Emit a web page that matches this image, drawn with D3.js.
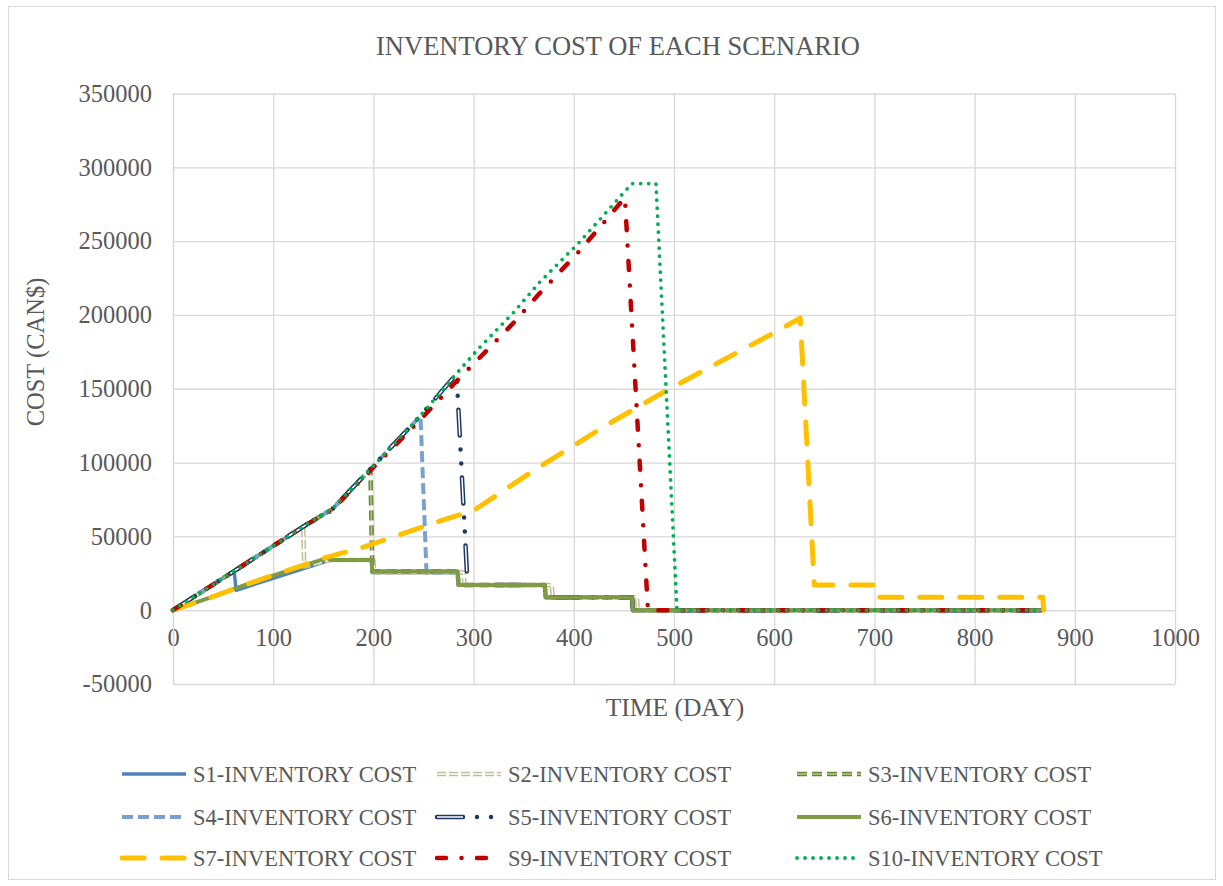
<!DOCTYPE html>
<html>
<head>
<meta charset="utf-8">
<script src="https://cdn.jsdelivr.net/npm/d3@7"></script>
<style>
  body { margin: 0; background: #fff; }
  text { font-family: "Liberation Serif", "Times New Roman", serif; fill: #595959; }
</style>
</head>
<body>
<svg id="chart"></svg>
<script>
// ---- data (day, cost in CAN$) ----
var s1Days = [0, 61, 63, 157, 198, 199, 284, 285, 371, 372, 458, 459, 866];
var s1Cost = [0, 26500, 13500, 34000, 34000, 25500, 25500, 17000, 17000, 8800, 8800, 0, 0];

var s2Days = [0, 61, 130, 131, 157, 200, 201, 290, 291, 378, 379, 463, 464, 866];
var s2Cost = [0, 26500, 56600, 29500, 34000, 34000, 25500, 25500, 17000, 17000, 8800, 8800, 0, 0];

var s3Days = [0, 61, 132, 159, 197, 199, 284, 285, 371, 372, 458, 459, 866];
var s3Cost = [0, 26500, 57500, 68500, 95500, 26300, 26300, 17000, 17000, 8800, 8800, 0, 0];

var s4Days = [0, 61, 132, 159, 199, 247, 253, 284, 285, 371, 372, 458, 459, 866];
var s4Cost = [0, 26500, 57500, 68500, 97000, 131500, 25500, 25500, 17000, 17000, 8800, 8800, 0, 0];

var s5Days = [0, 61, 132, 159, 199, 246, 283, 294, 371, 372, 458, 459, 866];
var s5Cost = [0, 26500, 57500, 68500, 97000, 131000, 160000, 17000, 17000, 8800, 8800, 0, 0];

var s6Days = [0, 37, 77, 154, 157, 198, 199, 284, 285, 371, 372, 458, 459, 866];
var s6Cost = [0, 8500, 18300, 35500, 34000, 34000, 26300, 26300, 17000, 17000, 8800, 8800, 0, 0];

var s7Days = [0, 37, 77, 154, 187, 269, 300, 363, 436, 493, 599, 626, 640, 704, 705, 868, 869];
var s7Cost = [0, 8500, 18300, 36000, 42000, 61000, 67500, 96000, 126700, 149000, 187600, 197800, 17000, 17000, 8800, 8800, 0];

var s9Days = [0, 61, 132, 159, 199, 246, 280, 306, 339, 365, 406, 451, 474, 866];
var s9Cost = [0, 26500, 57500, 68000, 96000, 128500, 153000, 171000, 194000, 214000, 243500, 279500, 0, 0];

var s10Days = [0, 61, 132, 159, 199, 246, 280, 306, 339, 365, 406, 458, 482, 503, 866];
var s10Cost = [0, 26500, 57500, 68500, 97000, 131000, 158000, 178000, 201000, 221500, 249500, 289000, 289000, 0, 0];

var seriesNames = ["S1-INVENTORY COST", "S2-INVENTORY COST", "S3-INVENTORY COST",
                   "S4-INVENTORY COST", "S5-INVENTORY COST", "S6-INVENTORY COST",
                   "S7-INVENTORY COST", "S9-INVENTORY COST", "S10-INVENTORY COST"];
var xTicks = [0, 100, 200, 300, 400, 500, 600, 700, 800, 900, 1000];
var yTicks = [-50000, 0, 50000, 100000, 150000, 200000, 250000, 300000, 350000];

// ---- layout ----
var W = 1223, H = 886;
var plot = {left: 173, right: 1175, top: 93.5, bottom: 684};

var svg = d3.select("#chart").attr("width", W).attr("height", H);

// chart border
svg.append("rect")
  .attr("x", 8.5).attr("y", 6.5)
  .attr("width", 1207).attr("height", 873)
  .attr("fill", "#fff")
  .attr("stroke", "#d9d9d9");

var x = d3.scaleLinear().domain([0, 1000]).range([plot.left, plot.right]);
var y = d3.scaleLinear().domain([-50000, 350000]).range([plot.bottom, plot.top]);

// horizontal grid
svg.append("g")
  .attr("transform", "translate(" + plot.left + ",0)")
  .call(d3.axisLeft(y).tickValues(yTicks).tickSize(-(plot.right - plot.left)).tickFormat(""))
  .call(function(g) { g.select(".domain").remove(); })
  .selectAll("line").attr("stroke", "#d9d9d9").attr("stroke-width", 1.3);

// vertical grid
svg.append("g")
  .attr("transform", "translate(0," + plot.bottom + ")")
  .call(d3.axisBottom(x).tickValues(xTicks).tickSize(-(plot.bottom - plot.top)).tickFormat(""))
  .call(function(g) { g.select(".domain").remove(); })
  .selectAll("line").attr("stroke", "#d9d9d9").attr("stroke-width", 1.3);

// plain hyphen for negatives, like the original
var fmt = function(d) { return String(d); };

// x axis labels sit under the zero line
var xAxis = svg.append("g")
  .attr("transform", "translate(0," + y(0) + ")")
  .call(d3.axisBottom(x).tickValues(xTicks).tickSize(0).tickPadding(18).tickFormat(fmt));
xAxis.select(".domain").attr("stroke", "#d9d9d9").attr("stroke-width", 1.3);
xAxis.selectAll("text").attr("font-size", 24.5).attr("font-family", "Liberation Serif").attr("fill", "#595959");

// y axis labels
var yAxis = svg.append("g")
  .attr("transform", "translate(" + plot.left + ",0)")
  .call(d3.axisLeft(y).tickValues(yTicks).tickSize(0).tickPadding(21).tickFormat(fmt));
yAxis.select(".domain").attr("stroke", "#d9d9d9").attr("stroke-width", 1.3);
yAxis.selectAll("text").attr("font-size", 24.5).attr("font-family", "Liberation Serif").attr("fill", "#595959");

// titles
svg.append("text")
  .attr("x", 618).attr("y", 46)
  .attr("text-anchor", "middle").attr("dy", "0.35em")
  .attr("font-size", 26.5)
  .text("INVENTORY COST OF EACH SCENARIO");

svg.append("text")
  .attr("x", 675).attr("y", 707)
  .attr("text-anchor", "middle").attr("dy", "0.35em")
  .attr("font-size", 25.5)
  .text("TIME (DAY)");

svg.append("text")
  .attr("transform", "translate(35,352) rotate(-90)")
  .attr("text-anchor", "middle").attr("dy", "0.35em")
  .attr("font-size", 24.5)
  .text("COST (CAN$)");

// ---- line styles: each entry is one or more stroke layers ----
var styles = [
  [{stroke: "#4f81bd", width: 3.5}],
  [{stroke: "#c4bd97", width: 4.5, dash: "9,3"}, {stroke: "#fff", width: 1.5, dash: "9,3"}],
  [{stroke: "#6a8435", width: 4.5, dash: "10,5"}, {stroke: "#b5cc8e", width: 1.5, dash: "10,5"}],
  [{stroke: "#7ba0cd", width: 4, dash: "11,5"}],
  [{stroke: "#1f3864", width: 4.5, dash: "26,14,0,14,0,14", cap: "round"},
   {stroke: "#fff", width: 1.5, dash: "26,42"}],
  [{stroke: "#7f9b45", width: 4}],
  [{stroke: "#ffc000", width: 5, dash: "22,18", cap: "round"}],
  [{stroke: "#c00000", width: 4.5, dash: "9,15.5,0,15.5", cap: "round"}],
  [{stroke: "#00b050", width: 3.8, dash: "0,8", cap: "round"}]
];

var allDays = [s1Days, s2Days, s3Days, s4Days, s5Days, s6Days, s7Days, s9Days, s10Days];
var allCost = [s1Cost, s2Cost, s3Cost, s4Cost, s5Cost, s6Cost, s7Cost, s9Cost, s10Cost];

var line = d3.line()
  .x(function(d) { return x(d[0]); })
  .y(function(d) { return y(d[1]); });

function applyStyle(sel, st) {
  sel.attr("fill", "none")
    .attr("stroke", st.stroke)
    .attr("stroke-width", st.width)
    .attr("stroke-linejoin", "round")
    .attr("stroke-linecap", st.cap || "butt");
  if (st.dash) sel.attr("stroke-dasharray", st.dash);
}

var lines = svg.append("g");
allDays.forEach(function(days, i) {
  var pts = days.map(function(d, j) { return [d, allCost[i][j]]; });
  styles[i].forEach(function(st) {
    applyStyle(lines.append("path").attr("d", line(pts)), st);
  });
});

// ---- legend, 3 columns x 3 rows ----
var legCols = [122, 437, 797];
var legRows = [774, 817, 858];
var legend = svg.append("g");
seriesNames.forEach(function(name, i) {
  var cx = legCols[i % 3], cy = legRows[Math.floor(i / 3)];
  styles[i].forEach(function(st) {
    applyStyle(legend.append("path").attr("d", "M" + cx + "," + cy + "H" + (cx + 64)), st);
  });
  legend.append("text")
    .attr("x", cx + 71).attr("y", cy)
    .attr("dy", "0.35em")
    .attr("font-size", 22.5)
    .text(name);
});
</script>
</body>
</html>
